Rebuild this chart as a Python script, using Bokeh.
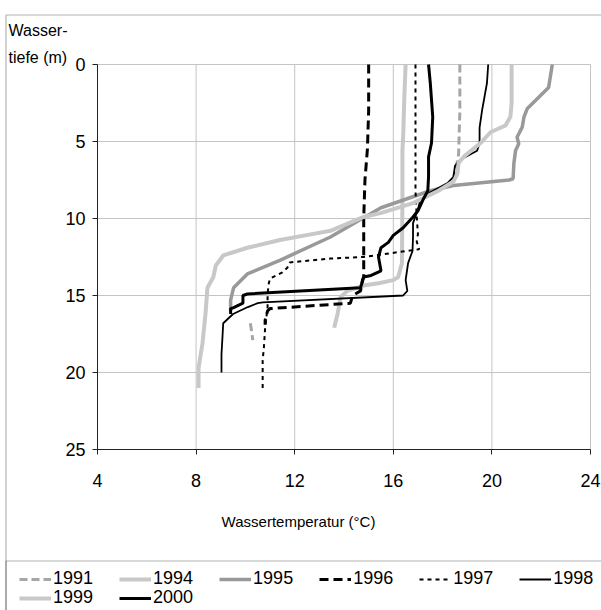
import numpy as np
from bokeh.plotting import figure
from bokeh.models import Range1d, FixedTicker, Legend, LegendItem, Label, BoxAnnotation
from bokeh.embed import file_html
from bokeh.resources import INLINE

FONT = "Liberation Sans"
FS_TICK = "18px"
FS_TITLE = "16px"

# ---- data (temperature °C, depth m) ----
t1991 = [18.7, 18.7, 18.65, 18.6, 18.5, 18.44, np.nan, 10.2, 10.25, 10.3]
d1991 = [0, 3, 5.8, 6.3, 6.8, 7.5, np.nan, 16.8, 17.3, 17.9]

t1994 = [16.5, 16.45, 16.4, 16.37, 16.37, 16.35, 16.2, 16.0, 15.4, 14.8, 14.14, 13.86, 13.74, 13.6]
d1994 = [0, 2, 4.7, 5.6, 9, 12.9, 13.8, 14.0, 14.2, 14.35, 14.7, 15.1, 16.2, 17.1]

t1995 = [22.45, 22.3, 21.43, 21.3, 21.23, 21.02, 21.09, 20.96, 20.89, 20.86, 20.7, 18.44, 17.5, 15.5, 13.45, 11.42, 10.08, 9.52, 9.4, 9.4]
d1995 = [0, 1.5, 2.88, 3.42, 4.07, 4.72, 5.15, 5.58, 6.45, 7.42, 7.5, 7.86, 8.2, 9.3, 11.2, 12.7, 13.6, 14.5, 15.3, 16.0]

t1996 = [15.0, 15.0, 14.95, 14.85, 14.8, 14.8, 14.75, 14.67, 14.35, 14.26, 11.0, 10.9, 10.8, 10.8]
d1996 = [0, 3, 5.5, 7.5, 10, 13.8, 14.0, 14.7, 15.0, 15.5, 15.85, 16.0, 16.6, 16.9]

t1997 = [16.9, 16.9, 16.95, 17.0, 16.95, 17.05, 16.8, 14.8, 13.45, 11.8, 11.7, 11.5, 11.0, 10.95, 10.9, 10.9, 10.8, 10.75, 10.7, 10.7]
d1997 = [0, 8.2, 9.9, 11.0, 11.5, 12.0, 12.05, 12.5, 12.6, 12.85, 13.2, 13.5, 13.9, 14.2, 14.9, 15.75, 17.1, 18.4, 19.2, 21.0]

t1998 = [19.85, 19.8, 19.6, 19.5, 19.5, 19.4, 18.7, 18.5, 18.44, 18.2, 17.5, 17.1, 16.98, 16.8, 16.8, 16.78, 16.6, 16.5, 16.57, 16.4, 10.7, 10.5, 10.1, 9.5, 9.1, 9.07, 9.03, 9.03]
d1998 = [0, 1.2, 3.0, 4.1, 5.1, 5.6, 6.2, 6.6, 7.3, 7.7, 8.3, 8.8, 9.5, 10.3, 11.2, 12.1, 12.9, 14.0, 14.7, 15.0, 15.45, 15.5, 15.75, 16.2, 16.8, 17.7, 18.8, 20.0]

t1999 = [20.8, 20.8, 20.75, 20.55, 19.94, 19.54, 18.85, 18.65, 18.6, 18.44, 17.83, 16.8, 15.48, 14.8, 13.45, 12.76, 11.4, 10.08, 9.1, 8.8, 8.7, 8.46, 8.38, 8.26, 8.1, 8.1]
d1999 = [0, 2.5, 3.4, 3.96, 4.4, 5.1, 6.0, 6.4, 7.1, 7.6, 8.2, 9.0, 9.65, 9.9, 10.8, 11.0, 11.4, 11.9, 12.4, 13.05, 13.8, 14.5, 16.2, 18.1, 19.7, 21.0]

t2000 = [17.43, 17.5, 17.6, 17.55, 17.43, 17.43, 17.4, 17.2, 17.0, 16.8, 16.4, 16.0, 15.8, 15.5, 15.4, 15.5, 15.1, 14.8, 14.67, 10.08, 9.9, 9.9, 9.5, 9.4, 9.4]
d2000 = [0, 1.2, 3.4, 5.1, 6.0, 7.3, 8.2, 8.8, 9.5, 9.9, 10.6, 11.1, 11.55, 11.9, 12.5, 13.4, 13.7, 13.8, 14.5, 14.9, 15.0, 15.5, 15.8, 15.85, 16.2]

x_ticks = [4, 8, 12, 16, 20, 24]
y_ticks = [0, 5, 10, 15, 20, 25]
X0, X1 = 4, 24
Y0, Y1 = 0, 25

# ---- canvas geometry (pixels) ----
W, H = 601, 610
PL, PR = 97, 590     # plot area left/right on canvas
PT, PB = 64, 449     # plot area top/bottom on canvas
sx = (PR - PL) / (X1 - X0)
sy = (PB - PT) / (Y1 - Y0)

def dx(px):
    return X0 + (px - PL) / sx

def dy(py):
    return Y0 + (py - PT) / sy

p = figure(width=W, height=H, x_range=Range1d(dx(0), dx(W)), y_range=Range1d(dy(H), dy(0)),
           output_backend="svg", toolbar_location=None,
           min_border_left=0, min_border_right=0, min_border_top=0, min_border_bottom=0)
p.outline_line_color = None
p.background_fill_color = "white"
p.border_fill_color = "white"

p.xaxis.fixed_location = Y1
p.yaxis.fixed_location = X0
p.xaxis.bounds = (X0, X1)
p.yaxis.bounds = (Y0, Y1)
for ax, ticks in ((p.xaxis, x_ticks), (p.yaxis, y_ticks)):
    ax.ticker = FixedTicker(ticks=ticks)
    ax.minor_tick_line_color = None
    ax.major_tick_in = 0
    ax.major_tick_out = 5
    ax.axis_line_color = "#222222"
    ax.major_tick_line_color = "#222222"
    ax.major_label_text_font = FONT
    ax.major_label_text_font_size = FS_TICK
    ax.major_label_text_color = "black"
p.xaxis.major_label_standoff = 19
p.yaxis.major_label_standoff = 7

# grid lines restricted to the plot area
p.grid.visible = False
GRID = "#c4c4c4"
p.segment(x0=x_ticks, y0=[Y0] * len(x_ticks), x1=x_ticks, y1=[Y1] * len(x_ticks),
          line_color=GRID, line_width=1, level="underlay")
p.segment(x0=[X0] * len(y_ticks), y0=y_ticks, x1=[X1] * len(y_ticks), y1=y_ticks,
          line_color=GRID, line_width=1, level="underlay")

LG = "#c8c8c8"
MG = "#999999"
r1991 = p.line(t1991, d1991, line_color="#a6a6a6", line_width=3, line_dash="8 4")
r1994 = p.line(t1994, d1994, line_color=LG, line_width=4)
r1995 = p.line(t1995, d1995, line_color=MG, line_width=3.5)
r1996 = p.line(t1996, d1996, line_color="black", line_width=3, line_dash="9 5")
r1997 = p.line(t1997, d1997, line_color="black", line_width=2, line_dash="4 4")
r1998 = p.line(t1998, d1998, line_color="black", line_width=1.8)
r1999 = p.line(t1999, d1999, line_color=LG, line_width=4)
r2000 = p.line(t2000, d2000, line_color="black", line_width=3)

def mk_legend(items, loc):
    lg = Legend(items=[LegendItem(label=l, renderers=[r]) for l, r in items],
                orientation="horizontal", location=loc,
                border_line_alpha=0, background_fill_alpha=0,
                padding=0, margin=0, spacing=26,
                glyph_width=32, glyph_height=18, label_height=18, label_standoff=2,
                label_text_font=FONT, label_text_font_size=FS_TICK, label_text_color="black")
    p.add_layout(lg)

mk_legend([("1991", r1991), ("1994", r1994), ("1995", r1995), ("1996", r1996),
           ("1997", r1997), ("1998", r1998)], (19, H - 589))
mk_legend([("1999", r1999), ("2000", r2000)], (19, H - 608))

# axis titles
def lab(px, py, text, size, align="left"):
    p.add_layout(Label(x=dx(px), y=dy(py), text=text, text_font=FONT, text_font_size=size,
                       text_align=align, text_baseline="middle", text_color="black"))

lab(8, 30, "Wasser-", FS_TITLE)
lab(8, 57, "tiefe (m)", FS_TITLE)
lab(298, 521, "Wassertemperatur (°C)", "15px", align="center")

# frame of the whole chart and separator above the legend
p.add_layout(BoxAnnotation(left=dx(5.5), right=dx(W + 20), top=dy(14.5), bottom=dy(H + 20),
                           fill_alpha=0, line_color="black", line_width=1.2, level="overlay"))
p.add_layout(BoxAnnotation(left=dx(5.5), right=dx(W + 20), top=dy(560.5), bottom=dy(H + 20),
                           fill_alpha=0, line_color="black", line_width=1.2, level="overlay"))

open("out.html", "w").write(file_html(p, INLINE))
